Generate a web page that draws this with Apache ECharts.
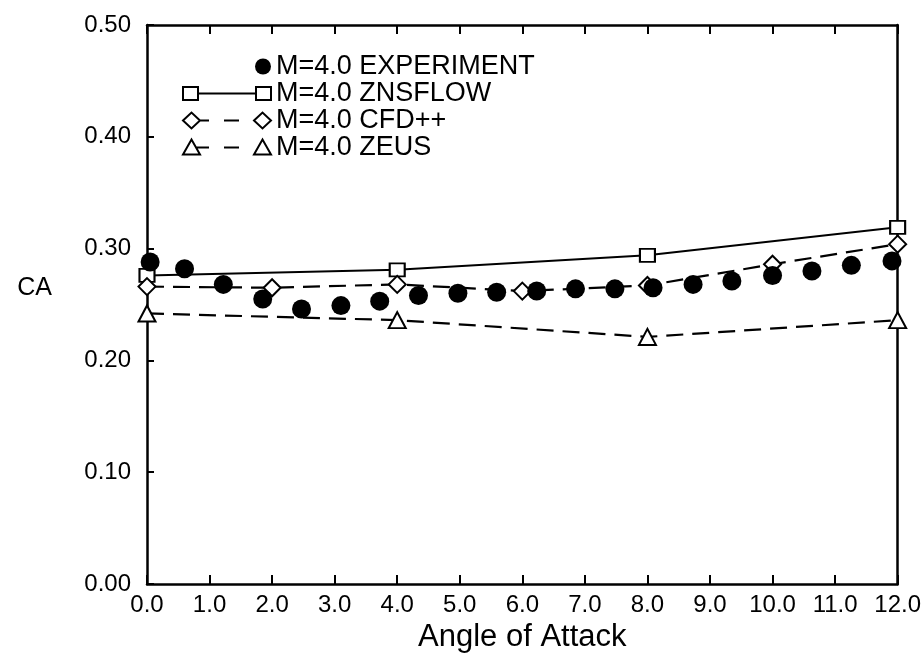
<!DOCTYPE html>
<html>
<head>
<meta charset="utf-8">
<script src="https://cdn.jsdelivr.net/npm/echarts@6/dist/echarts.min.js"></script>
<style>
html,body{margin:0;padding:0;background:#fff;}
#chart{width:924px;height:661px;}
</style>
</head>
<body>
<div id="chart"></div>
<script>
// ---- data ----
const expAngle = [0.05, 0.60, 1.22, 1.85, 2.47, 3.10, 3.72, 4.34, 4.97, 5.59, 6.23, 6.85, 7.48, 8.09, 8.73, 9.35, 10.0, 10.63, 11.26, 11.91];
const expCA    = [0.288, 0.282, 0.268, 0.255, 0.246, 0.249, 0.253, 0.258, 0.260, 0.261, 0.262, 0.264, 0.264, 0.265, 0.268, 0.271, 0.276, 0.280, 0.285, 0.289];

const znsAngle = [0, 4, 8, 12];
const znsCA    = [0.276, 0.281, 0.294, 0.319];

const cfdAngle = [0, 2, 4, 6, 8, 10, 12];
const cfdCA    = [0.266, 0.265, 0.268, 0.262, 0.267, 0.286, 0.304];

const zeusAngle = [0, 4, 8, 12];
const zeusCA    = [0.242, 0.236, 0.221, 0.236];

const seriesNames = ['M=4.0 EXPERIMENT', 'M=4.0 ZNSFLOW', 'M=4.0 CFD++', 'M=4.0 ZEUS'];
const xTickLabels = ['0.0','1.0','2.0','3.0','4.0','5.0','6.0','7.0','8.0','9.0','10.0','11.0','12.0'];
const yTickLabels = ['0.00','0.10','0.20','0.30','0.40','0.50'];

// ---- chart ----
const FONT = "'Liberation Sans', Arial, Helvetica, sans-serif";
const pairs = (xs, ys) => xs.map((x, i) => [x, ys[i]]);

const iconCircle = 'path://M0 0 M0 16 M72 8 A8 8 0 1 1 88 8 A8 8 0 1 1 72 8 Z';
const iconSquare = 'path://M0 0 M0 16 M0 1.5 L15 1.5 L15 14.5 L0 14.5 Z M15 8 L73 8 M73 1.5 L88 1.5 L88 14.5 L73 14.5 Z';
const iconDiamond = 'path://M0 8 L8.5 0 L17 8 L8.5 16 Z M17 8 L26 8 M41 8 L56 8 M71 8 L79.5 0 L88 8 L79.5 16 Z';
const iconTriangle = 'path://M0 0 M0 16 M0 15 L8.5 0 L17 15 Z M13 8 L26 8 M41 8 L56 8 M71 15 L79.5 0 L88 15 Z';

const openStyle = {color: '#fff', borderColor: '#000', borderWidth: 2, opacity: 1};

const chart = echarts.init(document.getElementById('chart'), null, {renderer: 'canvas'});
chart.setOption({
  animation: false,
  backgroundColor: '#fff',
  textStyle: {fontFamily: FONT, color: '#000'},
  grid: {left: 147, right: 26, top: 25, bottom: 77, containLabel: false},
  legend: {
    orient: 'vertical',
    left: 177,
    top: 48,
    itemWidth: 88,
    itemHeight: 16,
    itemGap: 0,
    selectedMode: false,
    textStyle: {fontFamily: FONT, fontSize: 27, color: '#000'},
    data: [
      {name: seriesNames[0], icon: iconCircle, itemStyle: {color: '#000', borderWidth: 0, opacity: 1}},
      {name: seriesNames[1], icon: iconSquare, itemStyle: openStyle},
      {name: seriesNames[2], icon: iconDiamond, itemStyle: openStyle},
      {name: seriesNames[3], icon: iconTriangle, itemStyle: openStyle}
    ]
  },
  xAxis: [
    {
      type: 'value', min: 0, max: 12, interval: 1,
      name: 'Angle of Attack', nameLocation: 'middle', nameGap: 38,
      nameTextStyle: {fontFamily: FONT, fontSize: 31, color: '#000'},
      axisLine: {show: true, onZero: false, lineStyle: {color: '#000', width: 2.5}},
      axisTick: {show: true, inside: true, length: 9, lineStyle: {color: '#000', width: 2}},
      axisLabel: {margin: 9, fontFamily: FONT, fontSize: 24, color: '#000',
                  formatter: v => xTickLabels[Math.round(v)]},
      splitLine: {show: false}
    },
    {
      type: 'value', min: 0, max: 12, interval: 1, position: 'top',
      axisLine: {show: true, onZero: false, lineStyle: {color: '#000', width: 2.5}},
      axisTick: {show: true, inside: true, length: 9, lineStyle: {color: '#000', width: 2}},
      axisLabel: {show: false},
      splitLine: {show: false}
    }
  ],
  yAxis: [
    {
      type: 'value', min: 0, max: 0.5, interval: 0.1,
      name: 'CA', nameLocation: 'middle', nameRotate: 0, nameGap: 95,
      nameTextStyle: {fontFamily: FONT, fontSize: 25, color: '#000', verticalAlign: 'bottom', padding: [0, 0, 4, 0]},
      axisLine: {show: true, onZero: false, lineStyle: {color: '#000', width: 2.5}},
      axisTick: {show: true, inside: true, length: 7, lineStyle: {color: '#000', width: 2}},
      axisLabel: {margin: 16, fontFamily: FONT, fontSize: 24, color: '#000',
                  formatter: v => yTickLabels[Math.round(v * 10)]},
      splitLine: {show: false}
    },
    {
      type: 'value', min: 0, max: 0.5, interval: 0.1, position: 'right',
      axisLine: {show: true, onZero: false, lineStyle: {color: '#000', width: 2.5}},
      axisTick: {show: false},
      axisLabel: {show: false},
      splitLine: {show: false}
    }
  ],
  series: [
    {
      name: seriesNames[1], type: 'line', data: pairs(znsAngle, znsCA),
      symbol: 'rect', symbolSize: [15, 13], showAllSymbol: true, clip: false,
      itemStyle: openStyle,
      lineStyle: {color: '#000', width: 2, type: 'solid'},
      z: 3
    },
    {
      name: seriesNames[2], type: 'line', data: pairs(cfdAngle, cfdCA),
      symbol: 'diamond', symbolSize: [17, 17], showAllSymbol: true, clip: false,
      itemStyle: openStyle,
      lineStyle: {color: '#000', width: 2.2, type: [17, 9]},
      z: 3
    },
    {
      name: seriesNames[3], type: 'line', data: pairs(zeusAngle, zeusCA),
      symbol: 'triangle', symbolSize: [17, 16], showAllSymbol: true, clip: false,
      itemStyle: openStyle,
      lineStyle: {color: '#000', width: 2.2, type: [17, 9]},
      z: 3
    },
    {
      name: seriesNames[0], type: 'scatter', data: pairs(expAngle, expCA),
      symbol: 'circle', symbolSize: 19, clip: false,
      itemStyle: {color: '#000', opacity: 1},
      z: 4
    }
  ]
});
</script>
</body>
</html>
